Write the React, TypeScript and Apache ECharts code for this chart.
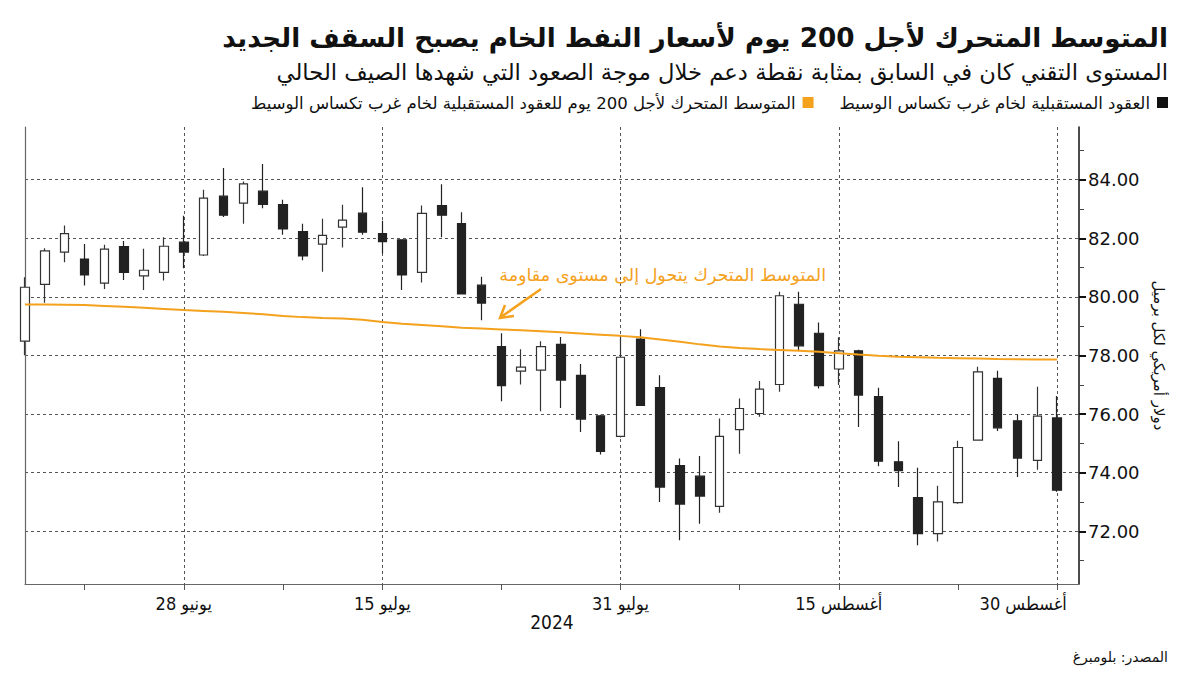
import React, { useEffect, useRef } from 'react';
import * as echarts from 'echarts';

// ---- Data ----
const dates = [
  '2024-06-17', '2024-06-18', '2024-06-20', '2024-06-21', '2024-06-24', '2024-06-25', '2024-06-26', '2024-06-27',
  '2024-06-28', '2024-07-01', '2024-07-02', '2024-07-03', '2024-07-05', '2024-07-08', '2024-07-09', '2024-07-10',
  '2024-07-11', '2024-07-12', '2024-07-15', '2024-07-16', '2024-07-17', '2024-07-18', '2024-07-19', '2024-07-22',
  '2024-07-23', '2024-07-24', '2024-07-25', '2024-07-26', '2024-07-29', '2024-07-30', '2024-07-31', '2024-08-01',
  '2024-08-02', '2024-08-05', '2024-08-06', '2024-08-07', '2024-08-08', '2024-08-09', '2024-08-12', '2024-08-13',
  '2024-08-14', '2024-08-15', '2024-08-16', '2024-08-19', '2024-08-20', '2024-08-21', '2024-08-22', '2024-08-23',
  '2024-08-26', '2024-08-27', '2024-08-28', '2024-08-29', '2024-08-30',
];
const opens = [
  78.49, 80.43, 81.53, 81.29, 80.47, 81.72, 80.72, 80.84, 81.87, 81.43, 83.44, 83.2, 83.61, 83.15, 82.23, 81.8,
  82.38, 82.86, 82.16, 81.95, 80.84, 83.12, 82.5, 80.4, 78.3, 77.47, 77.5, 78.38, 77.32, 75.94, 75.24, 78.56,
  76.9, 74.24, 73.88, 72.85, 75.47, 76.02, 77.01, 79.75, 78.76, 77.54, 78.16, 76.6, 74.37, 73.15, 71.92, 72.98,
  75.11, 77.22, 75.77, 74.42, 75.87,
];
const closes = [
  80.33, 81.57, 82.16, 80.75, 81.63, 80.84, 80.91, 81.73, 81.53, 83.37, 82.79, 83.86, 83.16, 82.32, 81.4, 82.1,
  82.62, 82.21, 81.89, 80.75, 82.85, 82.79, 80.1, 79.79, 76.97, 77.6, 78.3, 77.16, 75.83, 74.73, 77.94, 76.3,
  73.51, 72.93, 73.2, 75.24, 76.19, 76.85, 80.04, 78.33, 76.97, 78.16, 76.65, 74.39, 74.07, 71.92, 73.0, 74.86,
  77.44, 75.53, 74.5, 75.93, 73.4,
];
const lows = [
  78.01, 79.8, 81.18, 80.39, 80.27, 80.58, 80.24, 80.56, 80.98, 81.4, 82.73, 82.5, 83.03, 82.12, 81.25, 80.86,
  81.69, 82.12, 81.48, 80.24, 80.49, 82.04, 80.08, 79.2, 76.44, 77.01, 76.1, 76.21, 75.39, 74.62, 75.2, 76.28,
  73.0, 71.69, 72.26, 72.63, 74.65, 75.91, 76.76, 78.19, 76.87, 76.99, 75.56, 74.22, 73.51, 71.52, 71.65, 72.94,
  75.1, 75.42, 73.85, 74.1, 73.35,
];
const highs = [
  80.67, 81.66, 82.44, 81.81, 81.78, 81.91, 81.64, 82.04, 82.77, 83.66, 84.4, 83.94, 84.54, 83.32, 82.5, 82.67,
  83.15, 83.74, 82.6, 81.97, 83.12, 83.85, 82.89, 80.69, 78.76, 78.21, 78.49, 78.63, 77.71, 75.98, 78.69, 78.9,
  77.33, 74.48, 74.57, 75.85, 76.53, 77.13, 80.18, 80.18, 79.13, 78.62, 78.2, 76.9, 75.07, 74.17, 73.55, 75.09,
  77.62, 77.48, 75.99, 76.93, 76.62,
];
const ma200 = [
  79.74, 79.74, 79.73, 79.72, 79.69, 79.66, 79.63, 79.59, 79.55, 79.52, 79.49, 79.45, 79.41, 79.35, 79.31, 79.28,
  79.26, 79.22, 79.14, 79.08, 79.04, 79.0, 78.95, 78.92, 78.89, 78.86, 78.83, 78.79, 78.75, 78.71, 78.67, 78.62,
  78.55, 78.47, 78.38, 78.31, 78.26, 78.22, 78.19, 78.16, 78.13, 78.08, 78.03, 77.99, 77.96, 77.94, 77.92, 77.91,
  77.9, 77.88, 77.87, 77.86, 77.86,
];
const xLabelIdx = [8, 18, 30, 41, 52];
const xLabelText = ['28 يونيو', '15 يوليو', '31 يوليو', '15 أغسطس', '30 أغسطس'];
const xMinorIdx = [3, 13, 24, 36, 47];
const yTicks = [72, 74, 76, 78, 80, 82, 84];
const yMinorTicks = [71, 73, 75, 77, 79, 81, 83, 85];

const titleText = 'المتوسط المتحرك لأجل 200 يوم لأسعار النفط الخام يصبح السقف الجديد';
const subtitleText = 'المستوى التقني كان في السابق بمثابة نقطة دعم خلال موجة الصعود التي شهدها الصيف الحالي';
const legend1 = 'العقود المستقبلية لخام غرب تكساس الوسيط';
const legend2 = 'المتوسط المتحرك لأجل 200 يوم للعقود المستقبلية لخام غرب تكساس الوسيط';
const annotationText = 'المتوسط المتحرك يتحول إلى مستوى مقاومة';
const sourceText = 'المصدر: بلومبرغ';
const yearText = '2024';
const yName = 'دولار أمريكي لكل برميل';

const ORANGE = '#f4a11d';
const FONT = "'DejaVu Sans', sans-serif";
const NARROW = "'Liberation Sans Narrow', 'DejaVu Sans Condensed', 'DejaVu Sans', sans-serif";

function measure(text: string, font: string): number {
  const c = document.createElement('canvas').getContext('2d');
  if (!c) return text.length * 10;
  c.font = font;
  return c.measureText(text).width;
}
function fit(text: string, weight: string, family: string, base: number, target: number, lo: number, hi: number) {
  const w = measure(text, `${weight} ${base}px ${family}`);
  const s = (base * target) / w;
  return Math.max(lo, Math.min(hi, s));
}

export default function App() {
  const ref = useRef<HTMLDivElement>(null);
  useEffect(() => {
    if (!ref.current) return;
    const chart = echarts.init(ref.current, null, { renderer: 'svg' });

    const candleData = dates.map((_, i) => [i, opens[i], closes[i], lows[i], highs[i]]);
    const maData = dates.map((_, i) => [i, ma200[i]]);

    const titleSize = fit(titleText, 'bold', FONT, 28, 946, 22, 32);
    const subSize = fit(subtitleText, 'normal', FONT, 20, 892, 16, 24);
    const legSize = fit(legend2, 'normal', FONT, 15, 545, 12, 18);
    const leg1W = measure(legend1, `normal ${legSize}px ${FONT}`);
    const sq2Right = 1150 - leg1W - 26;
    const annSize = fit(annotationText, 'normal', FONT, 16, 327, 13, 20);

    const yBase = { type: 'value', min: 70.2, max: 85.8 };

    const option: any = {
      animation: false,
      backgroundColor: '#ffffff',
      grid: { left: 25, right: 121, top: 127, bottom: 91, containLabel: false },
      xAxis: [
        {
          type: 'value',
          min: 0,
          max: 53.1,
          position: 'bottom',
          axisLine: { show: true, onZero: false, lineStyle: { color: '#666', width: 1.2 } },
          axisTick: { show: true, customValues: xLabelIdx, length: 6, lineStyle: { color: '#555' } },
          axisLabel: {
            show: true,
            customValues: xLabelIdx,
            margin: 10,
            fontSize: 18,
            fontFamily: NARROW,
            color: '#111',
            formatter: (v: number) => {
              const k = xLabelIdx.indexOf(Math.round(v));
              if (k < 0) return '';
              return k === xLabelIdx.length - 1 ? `{last|${xLabelText[k]}}` : xLabelText[k];
            },
            rich: {
              last: { fontSize: 18, fontFamily: NARROW, color: '#111', padding: [0, 68, 0, 0] },
            },
          },
          splitLine: { show: true, lineStyle: { color: '#555', type: [3, 3], width: 1 } },
        },
        {
          type: 'value',
          min: 0,
          max: 53.1,
          position: 'bottom',
          offset: 0,
          axisLine: { show: false, onZero: false },
          axisTick: { show: true, customValues: xMinorIdx, length: 6, lineStyle: { color: '#555' } },
          axisLabel: { show: false },
          splitLine: { show: false },
        },
      ],
      yAxis: [
        {
          ...yBase,
          position: 'right',
          name: yName,
          nameLocation: 'middle',
          nameRotate: -90,
          nameGap: 72,
          nameTextStyle: { fontFamily: FONT, fontSize: 15, color: '#111' },
          axisLine: { show: true, onZero: false, lineStyle: { color: '#111', width: 1.5 } },
          axisTick: { show: true, customValues: yTicks, length: 7, lineStyle: { color: '#111', width: 2 } },
          axisLabel: {
            show: true,
            customValues: yTicks,
            margin: 9,
            fontSize: 18,
            fontFamily: FONT,
            color: '#111',
            formatter: (v: number) => v.toFixed(2),
          },
          splitLine: { show: true, lineStyle: { color: '#555', type: [3, 3], width: 1 } },
        },
        {
          ...yBase,
          position: 'right',
          offset: 0,
          axisLine: { show: false, onZero: false },
          axisTick: { show: true, customValues: yMinorTicks, length: 5, lineStyle: { color: '#444', width: 1 } },
          axisLabel: { show: false },
          splitLine: { show: false },
        },
        {
          ...yBase,
          position: 'left',
          axisLine: { show: true, onZero: false, lineStyle: { color: '#666', width: 1.2 } },
          axisTick: { show: false },
          axisLabel: { show: false },
          splitLine: { show: false },
        },
      ],
      series: [
        {
          type: 'candlestick',
          name: legend1,
          xAxisIndex: 0,
          yAxisIndex: 0,
          data: candleData,
          encode: { x: 0, y: [1, 2, 3, 4] },
          barWidth: 9,
          clip: true,
          itemStyle: {
            color: '#ffffff',
            color0: '#222222',
            borderColor: '#333333',
            borderColor0: '#222222',
            borderWidth: 1.2,
          },
          z: 3,
        },
        {
          type: 'line',
          name: legend2,
          xAxisIndex: 0,
          yAxisIndex: 0,
          data: maData,
          showSymbol: false,
          symbol: 'none',
          lineStyle: { color: ORANGE, width: 2 },
          itemStyle: { color: ORANGE },
          clip: true,
          z: 4,
        },
      ],
      graphic: [
        {
          type: 'text',
          x: 1168,
          y: 38,
          style: {
            text: titleText,
            align: 'right',
            verticalAlign: 'middle',
            fontFamily: FONT,
            fontWeight: 'bold',
            fontSize: titleSize,
            fill: '#111',
          },
        },
        {
          type: 'text',
          x: 1168,
          y: 72,
          style: {
            text: subtitleText,
            align: 'right',
            verticalAlign: 'middle',
            fontFamily: FONT,
            fontSize: subSize,
            fill: '#111',
          },
        },
        { type: 'rect', shape: { x: 1157, y: 97, width: 11, height: 11 }, style: { fill: '#111' } },
        {
          type: 'text',
          x: 1150,
          y: 103,
          style: { text: legend1, align: 'right', verticalAlign: 'middle', fontFamily: FONT, fontSize: legSize, fill: '#111' },
        },
        { type: 'rect', shape: { x: sq2Right - 11, y: 97, width: 11, height: 11 }, style: { fill: ORANGE } },
        {
          type: 'text',
          x: sq2Right - 18,
          y: 103,
          style: { text: legend2, align: 'right', verticalAlign: 'middle', fontFamily: FONT, fontSize: legSize, fill: '#111' },
        },
        {
          type: 'text',
          x: 826,
          y: 275,
          z: 10,
          style: { text: annotationText, align: 'right', verticalAlign: 'middle', fontFamily: FONT, fontSize: annSize, fill: ORANGE },
        },
        {
          type: 'line',
          z: 10,
          shape: { x1: 541, y1: 289, x2: 501, y2: 317 },
          style: { stroke: ORANGE, lineWidth: 2.5 },
        },
        {
          type: 'polyline',
          z: 10,
          shape: { points: [[505, 305], [500, 318], [514, 316]] },
          style: { stroke: ORANGE, lineWidth: 2.5, fill: 'none' },
        },
        {
          type: 'text',
          x: 552,
          y: 622,
          style: { text: yearText, align: 'center', verticalAlign: 'middle', fontFamily: NARROW, fontSize: 19, fill: '#111' },
        },
        {
          type: 'text',
          x: 1168,
          y: 657,
          style: { text: sourceText, align: 'right', verticalAlign: 'middle', fontFamily: FONT, fontSize: 14, fill: '#111' },
        },
      ],
    };
    chart.setOption(option);
    return () => chart.dispose();
  }, []);
  return <div ref={ref} style={{ position: 'absolute', left: 0, top: 0, width: 1200, height: 675 }} />;
}
